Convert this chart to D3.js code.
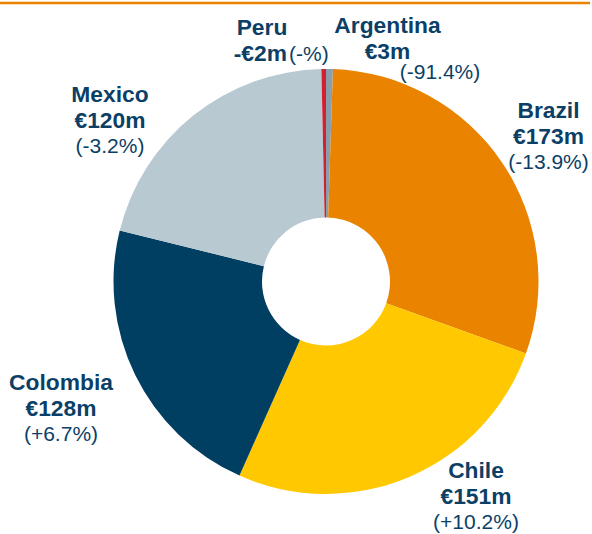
<!DOCTYPE html>
<html><head><meta charset="utf-8">
<script src="https://cdn.jsdelivr.net/npm/d3@7"></script>
<style>
html,body{margin:0;padding:0;background:#fff;}
svg{display:block;}
text{font-family:"Liberation Sans",Arial,sans-serif;fill:#0C3F66;}
</style></head>
<body>
<svg id="chart" width="592" height="534"></svg>
<script>
const countries = ["Argentina","Brazil","Chile","Colombia","Mexico","Peru"];
const values    = [3, 173, 151, 128, 120, 2];
const amountLabels = ["€3m","€173m","€151m","€128m","€120m","-€2m"];
const changeLabels = ["(-91.4%)","(-13.9%)","(+10.2%)","(+6.7%)","(-3.2%)","(-%)"];
const colors = ["#8A9FAD","#E98300","#FFC800","#003F62","#B8C9D1","#D2202F"];

const svg = d3.select("#chart");
const cx = 326, cy = 281.5, rOuter = 212.5, rInner = 64;

// top orange rule
svg.append("line").attr("x1",0).attr("x2",590).attr("y1",3).attr("y2",3)
  .attr("stroke","#E98300").attr("stroke-width",2.5);

const pie = d3.pie().sort(null).value(d => d.v);
const arc = d3.arc().innerRadius(rInner).outerRadius(rOuter);
const data = countries.map((c,i)=>({c, v: values[i], color: colors[i]}));

svg.append("g").attr("transform",`translate(${cx},${cy})`)
  .selectAll("path").data(pie(data)).join("path")
  .attr("d", arc).attr("fill", d => d.data.color);

// label layout (centre x, baseline of first line)
const labelPos = {
  Argentina: {x:387.5, y:33, pctX:440, pctY:79},
  Brazil:    {x:548.5, y:118},
  Chile:     {x:476,   y:478},
  Colombia:  {x:61,    y:390},
  Mexico:    {x:110,   y:101.5},
  Peru:      {x:262,   y:35}
};
const lh = 26;
const bold = 22.8, reg = 21;
const g = svg.append("g");
countries.forEach((c,i)=>{
  const p = labelPos[c];
  g.append("text").attr("x",p.x).attr("y",p.y).attr("text-anchor","middle")
    .attr("font-size",bold).attr("font-weight","bold").text(c);
  if (c === "Peru") {
    g.append("text").attr("x",287).attr("y",p.y+lh).attr("text-anchor","end")
      .attr("font-size",bold).attr("font-weight","bold").text(amountLabels[i]);
    g.append("text").attr("x",289).attr("y",p.y+lh).attr("text-anchor","start")
      .attr("font-size",reg).text(changeLabels[i]);
  } else {
    g.append("text").attr("x",p.x).attr("y",p.y+lh).attr("text-anchor","middle")
      .attr("font-size",bold).attr("font-weight","bold").text(amountLabels[i]);
    g.append("text").attr("x",p.pctX ?? p.x).attr("y",p.pctY ?? p.y+2*lh-1)
      .attr("text-anchor","middle").attr("font-size",reg).text(changeLabels[i]);
  }
});
</script>
</body></html>
